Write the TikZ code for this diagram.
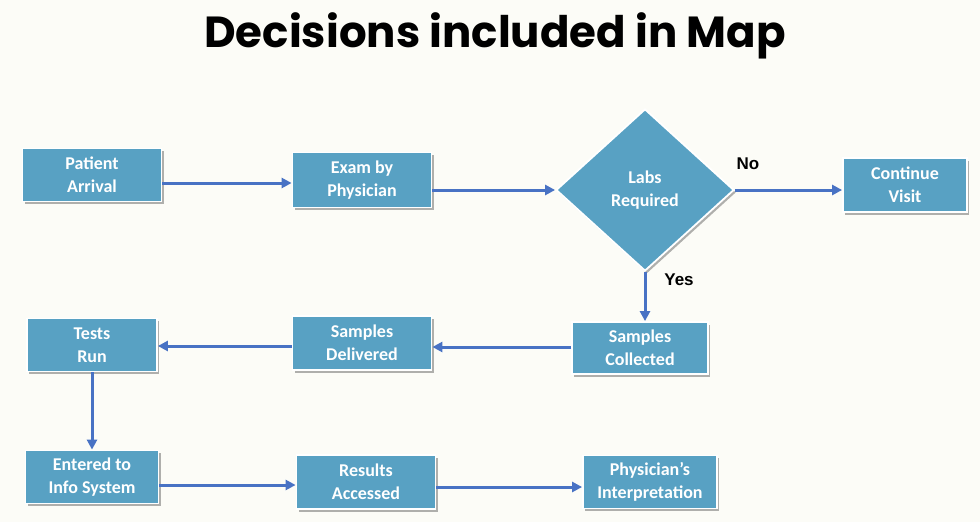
\documentclass[tikz,border=0pt]{standalone}
\usepackage{fontspec}
\setmainfont{Carlito}
\newfontfamily\titlefont{Poppins}
\newfontfamily\answerfont{Liberation Sans}
\usetikzlibrary{shapes.geometric,arrows.meta,shadows}
\definecolor{boxblue}{RGB}{88,161,195}
\definecolor{arrowblue}{RGB}{72,114,196}
\definecolor{paper}{RGB}{252,252,247}
\tikzset{
  stepbox/.style={rectangle, draw=white, line width=1.8pt, fill=boxblue,
    text=white, align=center, inner sep=0pt,
    font=\bfseries\fontsize{18}{23}\selectfont,
    drop shadow={shadow xshift=2pt, shadow yshift=-2.5pt, opacity=0.3, fill=black}},
  decision/.style={stepbox, diamond, minimum width=178pt, minimum height=162pt},
  flow/.style={draw=arrowblue, line width=3pt, -{Triangle[length=10pt,width=10pt]}},
  answer/.style={font=\answerfont\bfseries\fontsize{17}{19}\selectfont, text=black}
}
\begin{document}
\begin{tikzpicture}[x=1pt,y=-1pt]
  \fill[paper] (0,0) rectangle (980,522);
  \useasboundingbox (0,0) rectangle (980,522);
  \node[anchor=base] (title) at (495,47) {\titlefont\bfseries\fontsize{43.5}{48}\selectfont Decisions included in Map};

  % top row
  \node[stepbox, minimum width=139pt, minimum height=53pt] (arrival) at (92,175) {Patient\\Arrival};
  \node[stepbox, minimum width=139pt, minimum height=55pt] (exam) at (362,180) {Exam by\\Physician};
  \node[decision] (labs) at (645,190) {Labs\\Required};
  \node[stepbox, minimum width=124pt, minimum height=54pt] (visit) at (905,185) {Continue\\Visit};
  % middle row
  \node[stepbox, minimum width=136pt, minimum height=52pt] (collected) at (640,348) {Samples\\Collected};
  \node[stepbox, minimum width=139pt, minimum height=54pt] (delivered) at (362,343) {Samples\\Delivered};
  \node[stepbox, minimum width=130pt, minimum height=53pt] (tests) at (92,345) {Tests\\Run};
  % bottom row
  \node[stepbox, minimum width=133pt, minimum height=53pt] (entered) at (92,477) {Entered to\\Info System};
  \node[stepbox, minimum width=139pt, minimum height=54pt] (results) at (366,482) {Results\\Accessed};
  \node[stepbox, minimum width=134pt, minimum height=53pt] (interp) at (650,482) {Physician’s\\Interpretation};

  \draw[flow] (arrival.east |- 0,183) -- (exam.west |- 0,183);
  \draw[flow] (exam.east |- labs.west) -- (labs.west);
  \draw[flow] (labs.east) -- (visit.west |- labs.east);
  \draw[flow] (labs.south) -- (labs.south |- collected.north);
  \draw[flow] (collected.west |- 0,347) -- (delivered.east |- 0,347);
  \draw[flow] (delivered.west |- 0,346) -- (tests.east |- 0,346);
  \draw[flow] (tests.south) -- (entered.north);
  \draw[flow] (entered.east |- 0,485) -- (results.west |- 0,485);
  \draw[flow] (results.east |- 0,487) -- (interp.west |- 0,487);

  \node[answer] (no) at (748,164) {No};
  \node[answer] (yes) at (679,280) {Yes};
\end{tikzpicture}
\end{document}
